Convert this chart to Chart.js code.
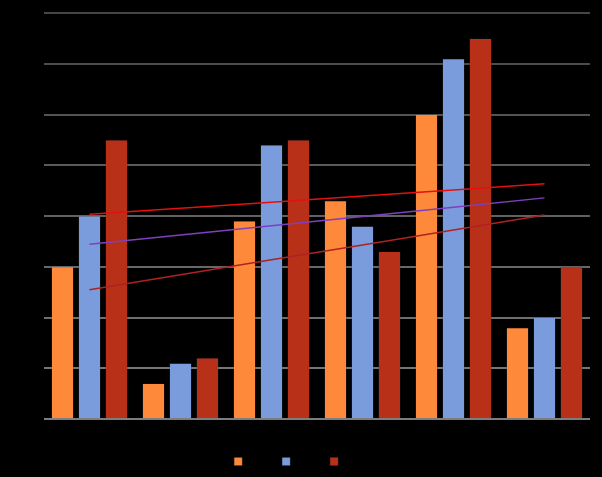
<!DOCTYPE html>
<html>
<head>
<meta charset="utf-8">
<script src="https://cdn.jsdelivr.net/npm/chart.js@4.4.0/dist/chart.umd.min.js"></script>
<style>
    html, body { margin: 0; padding: 0; background: #000; width: 602px; height: 477px; overflow: hidden; }
    #box { width: 602px; height: 477px; position: relative; }
</style>
</head>
<body>
<div id="box"><canvas id="myChart"></canvas></div>
<script>
var categories = ["1", "2", "3", "4", "5", "6"];
var seriesNames = ["2019", "2020", "All"];
var series1 = [3.0, 0.7, 3.9, 4.3, 6.0, 1.8];
var series2 = [4.0, 1.1, 5.4, 3.8, 7.1, 2.0];
var series3 = [5.5, 1.2, 5.5, 3.3, 7.5, 3.0];
var yTicks = [0, 1, 2, 3, 4, 5, 6, 7, 8];

// linear trendline (least squares) over the category index
function trend(values) {
    var n = values.length, sx = 0, sy = 0, sxy = 0, sxx = 0;
    values.forEach((v, i) => { sx += i; sy += v; sxy += i * v; sxx += i * i; });
    var slope = (n * sxy - sx * sy) / (n * sxx - sx * sx);
    var icpt = (sy - slope * sx) / n;
    return values.map((v, i) => icpt + slope * i);
}

function trendSet(values, color) {
    return {
        type: "line",
        data: trend(values),
        borderColor: color,
        borderWidth: 1.5,
        pointRadius: 0,
        fill: false,
        order: 0
    }
}

function barSet(label, values, color) {
    return {
        label: label,
        data: values,
        backgroundColor: color,
        borderColor: "rgba(60,60,60,0.6)",
        borderWidth: 0.5,
        categoryPercentage: 0.89,
        barPercentage: 0.82,
        order: 1
    }
}

new Chart(document.getElementById("myChart"), {
    type: "bar",
    data: {
        labels: categories,
        datasets: [
            barSet(seriesNames[0], series1, "#FF893A"),
            barSet(seriesNames[1], series2, "#7A9BDC"),
            barSet(seriesNames[2], series3, "#B83018"),
            trendSet(series1, "#B02222"),
            trendSet(series2, "#7F3FBF"),
            trendSet(series3, "#E41010"),
        ],
    },
    options: {
        animation: false,
        responsive: true,
        maintainAspectRatio: false,
        layout: { padding: { top: 13, right: 12, left: 0, bottom: 0 } },
        plugins: {
            legend: {
                display: true,
                position: "bottom",
                labels: {
                    color: "#000",
                    boxWidth: 8,
                    boxHeight: 8,
                    padding: 10,
                    font: { size: 11, family: "Liberation Sans" },
                    filter: (item) => item.datasetIndex < 3
                }
            },
            tooltip: { enabled: false },
        },
        scales: {
            y: {
                min: yTicks[0],
                max: yTicks[yTicks.length - 1],
                afterBuildTicks: (s) => { s.ticks = yTicks.map(v => ({ value: v })) },
                afterFit: (s) => { s.width = 44 },
                border: { display: false },
                grid: {
                    drawTicks: false,
                    lineWidth: 2,
                    color: (ctx) => {
                        var g = 125 - ctx.index * 7;
                        return `rgb(${g},${g},${g})`
                    }
                },
                ticks: { color: "#000", font: { size: 11 } }
            },
            x: {
                afterFit: (s) => { s.height = 27 },
                border: { display: false },
                grid: { display: false },
                ticks: { color: "#000", font: { size: 11 } }
            }
        },
    },
});
</script>
</body>
</html>
